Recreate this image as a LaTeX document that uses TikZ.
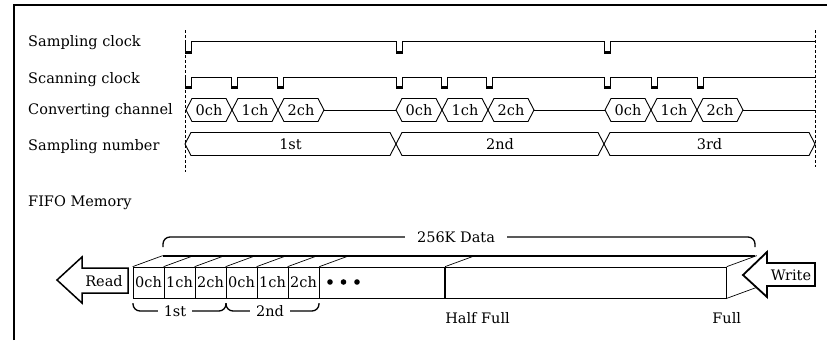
\documentclass[tikz,border=0pt]{standalone}
\usepackage{fontspec}
\setmainfont{DejaVu Serif}
\usetikzlibrary{positioning}
\tikzset{
  sig-label/.style={anchor=base west, inner sep=0pt},
  wave/.style={line width=0.8pt},
  pulse-low/.style={line width=2.2pt},
  time-mark/.style={line width=0.7pt, dash pattern=on 3pt off 2pt},
  bus-box/.style={draw, line width=0.9pt, line join=miter},
  mem-cell/.style={draw, line width=0.7pt, minimum width=31pt, minimum height=31pt, inner sep=0pt},
  mem-edge/.style={line width=0.7pt},
  mem-bracket/.style={line width=1.3pt, rounded corners=7pt},
  bracket-label/.style={fill=white, inner xsep=6pt, inner ysep=1pt},
  flow-arrow/.style={draw, fill=white, line width=1.5pt, line join=miter}
}

\begin{document}
\begin{tikzpicture}[x=1pt, y=-1pt, font=\fontsize{14.5}{17}\selectfont]
  \useasboundingbox (0,0) rectangle (827,340);
  % frame (cut off at right and bottom)
  \draw[line width=1.8pt] (14,340) -- (14,5) -- (827,5);

  % signal names
  \node[sig-label] (lbl-sclk) at (28,46.7) {Sampling clock};
  \node[sig-label] (lbl-scan) at (28,83.3) {Scanning clock};
  \node[sig-label] (lbl-conv) at (28,114.5) {Converting channel};
  \node[sig-label] (lbl-num) at (28,150) {Sampling number};

  % time marks
  \draw[time-mark] (185,30) -- (185,172);
  \draw[time-mark] (815,30) -- (815,167);

  % sampling clock
  \draw[wave] (185,41.5) \foreach \t in {185,396,604} { -- (\t,41.5) -- (\t,53) -- (\t+6,53) -- (\t+6,41.5) } -- (815,41.5);
  \foreach \t in {185,396,604}
    \draw[pulse-low] (\t,52.5) -- (\t+6,52.5);
  % scanning clock
  \draw[wave] (185,77) \foreach \t in {185,231,277,396,441,486,604,651,697} { -- (\t,77) -- (\t,88) -- (\t+6,88) -- (\t+6,77) } -- (815,77);
  \foreach \t in {185,231,277,396,441,486,604,651,697}
    \draw[pulse-low] (\t,87.5) -- (\t+6,87.5);

  % converting channel
  \foreach \g [count=\n] in {186,396,605} {
    \foreach \c [count=\k from 0] in {0ch,1ch,2ch} {
      \draw[bus-box] (\g+\k*46,110) -- ++(6,-11.5) -- ++(34,0) -- ++(6,11.5) -- ++(-6,11.5) -- ++(-34,0) -- cycle;
      \node (ch-\n-\k) at (\g+\k*46+23,110.5) {\c};
    }
  }
  \draw[wave] (324,110) -- (396,110);
  \draw[wave] (534,110) -- (605,110);
  \draw[wave] (743,110) -- (815,110);

  % sampling number
  \foreach \a/\b/\txt in {185/396/1st, 396/604/2nd, 604/815/3rd} {
    \draw[bus-box] (\a,144) -- (\a+6,132.5) -- (\b-6,132.5) -- (\b,144) -- (\b-6,155.5) -- (\a+6,155.5) -- cycle;
    \node (num-\txt) at ({(\a+\b)/2},144.5) {\txt};
  }

  % FIFO memory
  \node[sig-label] (lbl-fifo) at (28,206.7) {FIFO Memory};
  \foreach \c [count=\i from 0] in {0ch,1ch,2ch,0ch,1ch,2ch}
    \node[mem-cell] (cell\i) at (148.5+\i*31,282.5) {\c};
  \node[mem-cell, minimum width=125pt, anchor=west] (rest) at (cell5.east) {};
  \node[mem-cell, minimum width=281pt, anchor=west] (half) at (rest.east) {};
  \foreach \i in {0,...,5}
    \draw[mem-edge] (cell\i.north west) -- ++(30,-11);
  \draw[mem-edge] (rest.north west) -- ++(30,-11);
  \draw[mem-edge] (rest.north east) -- ++(30,-11);
  \draw[mem-edge] (half.north east) -- ++(30,-11);
  \draw[mem-edge] (half.south east) -- ++(30,-11);
  \draw[line width=1.6pt] (163,256) -- (755,256);
  \foreach \x in {330,343.5,357}
    \fill (\x,282) circle (2.8pt);

  % brackets
  \draw[mem-bracket] (163,247) |- (755,237) -- (755,247);
  \node[bracket-label, inner xsep=12pt] (total) at (456,237) {256K Data};
  \draw[mem-bracket] (133,303) |- (226,311) -- (226,303);
  \node[bracket-label] (first) at (175,311) {1st};
  \draw[mem-bracket] (226,303) |- (319,311) -- (319,303);
  \node[bracket-label] (second) at (270,311) {2nd};

  % fill levels
  \node[anchor=base west, inner sep=0pt] (halfmark) at ([yshift=-25pt]half.south west) {Half Full};
  \node[anchor=base, inner sep=0pt] (fullmark) at ([yshift=-25pt]half.south east) {Full};

  % read / write
  \draw[flow-arrow] (57,280) -- (82,257) -- (82,268) -- (128,268) -- (128,293) -- (82,293) -- (82,303) -- cycle;
  \node (read) at (104,281) {Read};
  \draw[flow-arrow, line width=1.8pt] (743,275) -- (767,252) -- (767,263) -- (815,263) -- (815,286) -- (767,286) -- (767,297) -- cycle;
  \node (write) at (791,275) {Write};
\end{tikzpicture}
\end{document}
